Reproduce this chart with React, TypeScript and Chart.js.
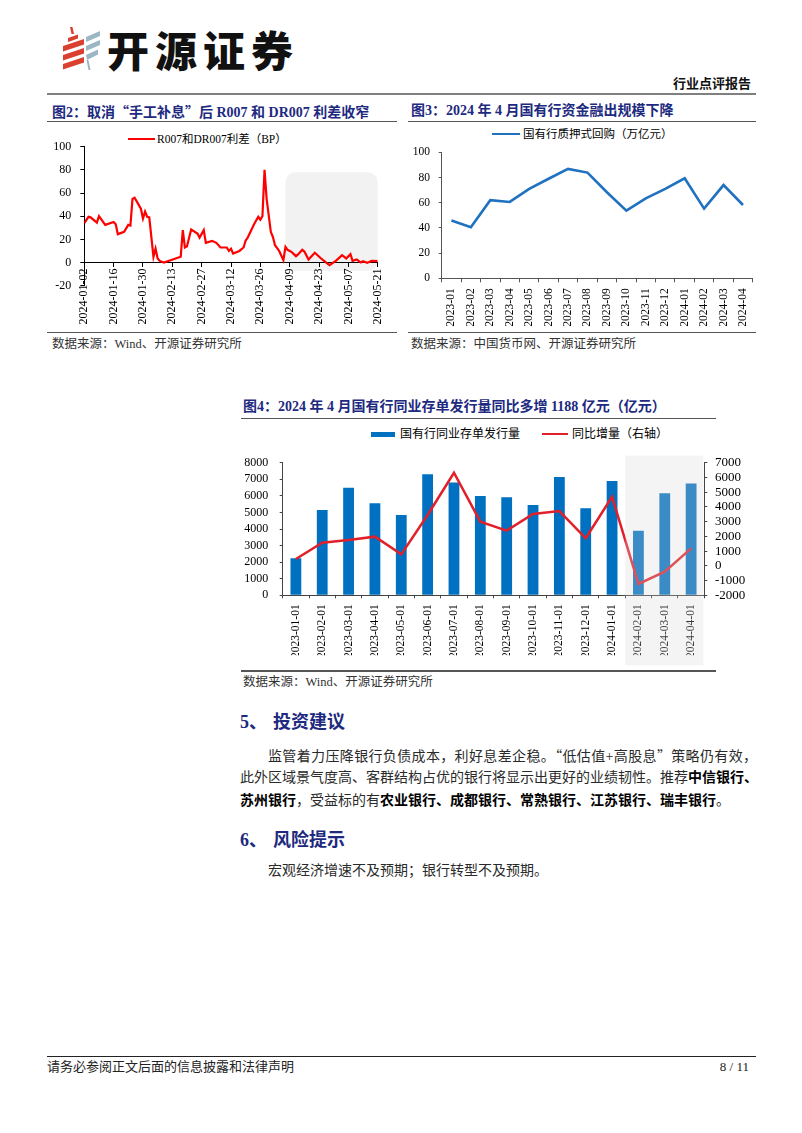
import React, { useEffect, useRef } from "react";
import { Chart, registerables } from "chart.js";
Chart.register(...registerables);

const SERIF = "'Liberation Serif', 'Times New Roman', 'Noto Sans CJK SC', serif";
const CJK = "'Noto Sans CJK SC', sans-serif";
const NAVY = "#1d2a80";

// ---------------- Figure 2: R007 - DR007 spread (BP) ----------------
const fig2Label = "R007和DR007利差（BP）";
const fig2Start = "2024-01-02";
const fig2End = "2024-05-21";
const fig2TickStepDays = 14;
const fig2YTicks = { min: -20, max: 100, step: 20 };
const fig2Dates = [
  "2024-01-02", "2024-01-04", "2024-01-05", "2024-01-08", "2024-01-09", "2024-01-12",
  "2024-01-16", "2024-01-17", "2024-01-18", "2024-01-21", "2024-01-23", "2024-01-24",
  "2024-01-25", "2024-01-26", "2024-01-29", "2024-01-30", "2024-01-31", "2024-02-01",
  "2024-02-02", "2024-02-04", "2024-02-05", "2024-02-06", "2024-02-07", "2024-02-09",
  "2024-02-17", "2024-02-18", "2024-02-19", "2024-02-20", "2024-02-22", "2024-02-25",
  "2024-02-26", "2024-02-28", "2024-02-29", "2024-03-03", "2024-03-05", "2024-03-07",
  "2024-03-10", "2024-03-11", "2024-03-12", "2024-03-13", "2024-03-16", "2024-03-18",
  "2024-03-19", "2024-03-20", "2024-03-23", "2024-03-25", "2024-03-26", "2024-03-27",
  "2024-03-28", "2024-03-29", "2024-03-31", "2024-04-01", "2024-04-02", "2024-04-04",
  "2024-04-06", "2024-04-07", "2024-04-08", "2024-04-10", "2024-04-12", "2024-04-13",
  "2024-04-15", "2024-04-16", "2024-04-18", "2024-04-19", "2024-04-21", "2024-04-24",
  "2024-04-26", "2024-04-28", "2024-05-01", "2024-05-04", "2024-05-06", "2024-05-08",
  "2024-05-09", "2024-05-11", "2024-05-13", "2024-05-14", "2024-05-16", "2024-05-18",
  "2024-05-21",
];
const fig2Spread = [
  34, 39.5, 39, 34.5, 40, 32.5,
  35, 33, 24.5, 26.5, 32.5, 32,
  55, 56, 46.5, 38, 44, 39.5,
  39, 5, 12, 3.5, 1.4, 0,
  5, 28, 13, 14, 28.5, 25,
  21.5, 28, 17, 18.7, 17, 13,
  13, 10, 12, 7.8, 10, 13,
  19, 21.6, 33, 39.5, 37, 40,
  80, 55, 26.5, 22, 15, 10,
  2, 13.5, 11, 9, 5.5, 7,
  11, 9.5, 2.6, 4.6, 8.4, 3.5,
  0.5, -2.3, 1.5, 6.3, 3.5, 7.2,
  1.4, 2.6, 0, 1.2, -0.3, 1.4,
  1.2,
];
const fig2Shade = { from: "2024-04-07", to: "2024-05-21", low: -7, high: 78 };

// ---------------- Figure 3: state banks' pledged repo lending ----------------
const fig3Label = "国有行质押式回购（万亿元）";
const fig3Months = [
  "2023-01", "2023-02", "2023-03", "2023-04", "2023-05", "2023-06", "2023-07", "2023-08",
  "2023-09", "2023-10", "2023-11", "2023-12", "2024-01", "2024-02", "2024-03", "2024-04",
];
const fig3Repo = [45.8, 40.5, 62, 60.6, 71, 79, 86.8, 83.9, 68.3, 53.7, 63.5, 71, 79.4, 55.3, 74, 58.2];
const fig3YTicks = { min: 0, max: 100, step: 20 };

// ---------------- Figure 4: NCD issuance ----------------
const fig4BarLabel = "国有行同业存单发行量";
const fig4LineLabel = "同比增量（右轴）";
const fig4Months = [
  "2023-01-01", "2023-02-01", "2023-03-01", "2023-04-01", "2023-05-01", "2023-06-01",
  "2023-07-01", "2023-08-01", "2023-09-01", "2023-10-01", "2023-11-01", "2023-12-01",
  "2024-01-01", "2024-02-01", "2024-03-01", "2024-04-01",
];
const fig4Issuance = [2230, 5150, 6490, 5550, 4840, 7300, 6810, 5990, 5910, 5450, 7140, 5250, 6890, 3900, 6150, 6750];
const fig4YoY = [465, 1570, 1750, 1980, 780, 3450, 6320, 3000, 2390, 3520, 3720, 1870, 4690, -1230, -390, 1188];
const fig4LeftTicks = { min: 0, max: 8000, step: 1000 };
const fig4RightTicks = { min: -2000, max: 7000, step: 1000 };
const fig4ShadeFrom = "2024-02-01";

// ---------------- helpers ----------------
const DAY = 86400000;
const t0 = Date.parse(fig2Start + "T00:00:00Z");
const dayIndex = (s: string) => Math.round((Date.parse(s + "T00:00:00Z") - t0) / DAY);
const dayLabel = (d: number) => new Date(t0 + d * DAY).toISOString().slice(0, 10);
const plain = (v: number) => String(v);

const tickFont = (size: number) => ({ family: SERIF, size });

const fig2ShadePlugin = {
  id: "fig2Shade",
  beforeDraw(chart: any) {
    const { x, y } = chart.scales;
    const ctx = chart.ctx;
    const x0 = x.getPixelForValue(dayIndex(fig2Shade.from));
    const x1 = x.getPixelForValue(dayIndex(fig2Shade.to));
    const y0 = y.getPixelForValue(fig2Shade.high);
    const y1 = y.getPixelForValue(fig2Shade.low);
    ctx.save();
    ctx.fillStyle = "#f2f2f2";
    ctx.beginPath();
    ctx.roundRect(x0, y0, x1 - x0, y1 - y0, 10);
    ctx.fill();
    ctx.restore();
  },
};

const fig4ShadePlugin = {
  id: "fig4Shade",
  afterDraw(chart: any) {
    const xs = chart.scales.x;
    const idx = fig4Months.indexOf(fig4ShadeFrom);
    const left = (xs.getPixelForValue(idx - 1) + xs.getPixelForValue(idx)) / 2;
    const right = chart.chartArea.right - 1;
    const top = chart.chartArea.top - 7;
    const bottom = chart.chartArea.bottom + 70;
    const ctx = chart.ctx;
    ctx.save();
    ctx.fillStyle = "rgba(214,214,214,0.27)";
    ctx.fillRect(left, top, right - left, bottom - top);
    ctx.restore();
  },
};

const fig2Config = (): any => ({
  type: "line",
  data: {
    datasets: [
      {
        label: fig2Label,
        data: fig2Dates.map((d, i) => ({ x: dayIndex(d), y: fig2Spread[i] })),
        borderColor: "#ff0000",
        borderWidth: 2.2,
        pointRadius: 0,
        tension: 0,
        fill: false,
      },
    ],
  },
  options: {
    animation: false,
    responsive: false,
    events: [],
    layout: { padding: { left: 0, right: 18.3, top: 22.7, bottom: 44.3 } },
    plugins: { legend: { display: false }, tooltip: { enabled: false } },
    scales: {
      x: {
        type: "linear",
        position: { y: 0 },
        min: 0,
        max: dayIndex(fig2End),
        ticks: {
          stepSize: fig2TickStepDays,
          autoSkip: false,
          minRotation: 90,
          maxRotation: 90,
          padding: 2,
          color: "#000",
          font: tickFont(12),
          callback: (v: number) => dayLabel(v),
        },
        grid: { drawOnChartArea: false, drawTicks: true, tickLength: 4, color: "#000" },
        border: { display: true, color: "#000", width: 1 },
        afterFit: (s: any) => {
          s.paddingLeft = 0;
          s.paddingRight = 0;
        },
      },
      y: {
        min: fig2YTicks.min,
        max: fig2YTicks.max,
        ticks: { stepSize: fig2YTicks.step, autoSkip: false, padding: 9, color: "#000", font: tickFont(12), callback: plain },
        grid: { drawOnChartArea: false, drawTicks: true, tickLength: 4, color: "#000" },
        border: { display: true, color: "#000", width: 1 },
        afterFit: (s: any) => {
          s.width = 37.3;
          s.paddingTop = 0;
          s.paddingBottom = 0;
        },
      },
    },
  },
  plugins: [fig2ShadePlugin],
});

const fig3Config = (): any => ({
  type: "line",
  data: {
    labels: fig3Months,
    datasets: [
      {
        label: fig3Label,
        data: fig3Repo,
        borderColor: "#2071c0",
        borderWidth: 2.6,
        pointRadius: 0,
        tension: 0,
        fill: false,
      },
    ],
  },
  options: {
    animation: false,
    responsive: false,
    events: [],
    layout: { padding: { left: 0, right: 3.3, top: 26.3, bottom: 3.7 } },
    plugins: { legend: { display: false }, tooltip: { enabled: false } },
    scales: {
      x: {
        type: "category",
        offset: true,
        ticks: {
          autoSkip: false,
          minRotation: 90,
          maxRotation: 90,
          padding: 6,
          color: "#000",
          font: tickFont(11.5),
        },
        grid: { offset: true, drawOnChartArea: false, drawTicks: true, tickLength: 4, color: "#555" },
        border: { display: true, color: "#555", width: 1 },
        afterFit: (s: any) => {
          s.height = 48;
          s.paddingLeft = 0;
          s.paddingRight = 0;
        },
      },
      y: {
        min: fig3YTicks.min,
        max: fig3YTicks.max,
        ticks: { stepSize: fig3YTicks.step, autoSkip: false, padding: 8.7, color: "#000", font: tickFont(11.5), callback: plain },
        grid: { drawOnChartArea: false, drawTicks: true, tickLength: 3, color: "#555" },
        border: { display: true, color: "#555", width: 1 },
        afterFit: (s: any) => {
          s.width = 33.7;
          s.paddingTop = 0;
          s.paddingBottom = 0;
        },
      },
    },
  },
});

const fig4Config = (): any => ({
  type: "bar",
  data: {
    labels: fig4Months,
    datasets: [
      {
        type: "line",
        label: fig4LineLabel,
        data: fig4YoY,
        yAxisID: "y1",
        borderColor: "#e2202a",
        borderWidth: 2.5,
        pointRadius: 0,
        tension: 0,
        order: 0,
      },
      {
        type: "bar",
        label: fig4BarLabel,
        data: fig4Issuance,
        yAxisID: "y",
        backgroundColor: "#0070c0",
        barPercentage: 0.41,
        categoryPercentage: 1,
        order: 1,
      },
    ],
  },
  options: {
    animation: false,
    responsive: false,
    events: [],
    layout: { padding: { left: 0, right: 0, top: 17.7, bottom: 12.7 } },
    plugins: { legend: { display: false }, tooltip: { enabled: false } },
    scales: {
      x: {
        type: "category",
        offset: true,
        ticks: {
          autoSkip: false,
          minRotation: 90,
          maxRotation: 90,
          padding: 6,
          color: "#000",
          font: tickFont(11.5),
        },
        grid: { offset: true, drawOnChartArea: false, drawTicks: true, tickLength: 3, color: "#444" },
        border: { display: true, color: "#444", width: 1 },
        afterFit: (s: any) => {
          s.height = 60;
          s.paddingLeft = 0;
          s.paddingRight = 0;
        },
      },
      y: {
        position: "left",
        min: fig4LeftTicks.min,
        max: fig4LeftTicks.max,
        ticks: { stepSize: fig4LeftTicks.step, autoSkip: false, padding: 11.4, color: "#000", font: tickFont(12), callback: plain },
        grid: { drawOnChartArea: false, drawTicks: true, tickLength: 3, color: "#444" },
        border: { display: true, color: "#444", width: 1 },
        afterFit: (s: any) => {
          s.width = 42.7;
          s.paddingTop = 0;
          s.paddingBottom = 0;
        },
      },
      y1: {
        position: "right",
        min: fig4RightTicks.min,
        max: fig4RightTicks.max,
        ticks: { stepSize: fig4RightTicks.step, autoSkip: false, padding: 7.7, color: "#000", font: tickFont(13), callback: plain },
        grid: { drawOnChartArea: false, drawTicks: true, tickLength: 3, color: "#444" },
        border: { display: true, color: "#444", width: 1 },
        afterFit: (s: any) => {
          s.width = 55.7;
          s.paddingTop = 0;
          s.paddingBottom = 0;
        },
      },
    },
  },
  plugins: [fig4ShadePlugin],
});

// ---------------- layout helpers ----------------
function ChartBox({ left, top, width, height, build }: any) {
  const ref = useRef<HTMLCanvasElement>(null);
  useEffect(() => {
    const chart = new Chart(ref.current as HTMLCanvasElement, build());
    return () => chart.destroy();
  }, []);
  return (
    <canvas
      ref={ref}
      width={width}
      height={height}
      style={{ position: "absolute", left, top, width, height }}
    />
  );
}

function T({ x, cy, size, children, weight = 400, color = "#000", family = SERIF, w, align, ls }: any) {
  const lh = Math.round(size * 1.4);
  const style: any = {
    position: "absolute",
    left: x,
    top: cy - lh / 2,
    fontSize: size,
    lineHeight: lh + "px",
    fontWeight: weight,
    color,
    fontFamily: family,
    whiteSpace: "nowrap",
  };
  if (ls !== undefined) style.letterSpacing = ls;
  if (w !== undefined) {
    style.width = w;
    style.textAlign = align || "left";
    if (align === "justify") style.textAlignLast = "justify";
  }
  return <div style={style}>{children}</div>;
}

function HL({ x1, x2, y, t = 1, color = "#555" }: any) {
  return (
    <div style={{ position: "absolute", left: x1, top: y - t / 2, width: x2 - x1, height: t, background: color }} />
  );
}

function LegendLine({ x1, x2, y, color, t = 2.5 }: any) {
  return <div style={{ position: "absolute", left: x1, top: y - t / 2, width: x2 - x1, height: t, background: color }} />;
}

const Q = ({ children }: any) => <span style={{ fontFamily: CJK }}>{children}</span>;
const B = ({ children }: any) => <b style={{ fontWeight: 700, color: "#000" }}>{children}</b>;

function Logo() {
  const red = "#d9402f";
  const blue = "#9bb7c4";
  return (
    <svg width={120} height={80} style={{ position: "absolute", left: 0, top: 0 }}>
      <polygon points="70,27 72.5,27 74,34 71.5,34" fill={red} />
      <polygon points="68,38 78,34.5 78,38.5 68,42" fill={red} />
      <polygon points="63,46 84,39 84,44.5 63,51.5" fill={red} />
      <polygon points="63,55 84,48 84,53.5 63,60.5" fill={red} />
      <polygon points="63,64 84,57 84,62.5 63,69.5" fill={red} />
      <polygon points="86,37 100,31 100,36 86,42" fill={blue} />
      <polygon points="86,46 100,40 100,45 86,51" fill={blue} />
      <polygon points="86,55 98,49.5 98,54.5 87,60" fill={blue} />
      <polygon points="86.5,60 88.5,60 90.5,70 88.5,70" fill={blue} />
    </svg>
  );
}

export default function App() {
  const body = "#2a2a2a";
  return (
    <div
      lang="zh-CN"
      style={{ position: "absolute", left: 0, top: 0, width: 802, height: 1133, background: "#fff", overflow: "hidden" }}
    >
      {/* header */}
      <Logo />
      <T x={107} cy={48} size={42} weight={900} family={CJK} color="#111" ls={6}>
        开源证券
      </T>
      <T x={600} cy={83} size={13} weight={700} family={CJK} w={151} align="right" color="#111">
        行业点评报告
      </T>
      <HL x1={47} x2={756} y={94} t={2} color="#808080" />

      {/* figure 2 */}
      <T x={52} cy={110.5} size={14} weight={700} color={NAVY}>
        图2：取消<Q>“</Q>手工补息<Q>”</Q>后 R007 和 DR007 利差收窄
      </T>
      <HL x1={47} x2={397} y={121.5} t={1.2} />
      <LegendLine x1={128} x2={155} y={139} color="#ff0000" />
      <T x={157} cy={139} size={11.5}>
        {fig2Label}
      </T>
      <ChartBox left={47} top={124} width={349} height={206} build={fig2Config} />
      <HL x1={47} x2={397} y={332.3} t={1.2} />
      <T x={52} cy={343.5} size={12.5} color="#333">
        数据来源：Wind、开源证券研究所
      </T>

      {/* figure 3 */}
      <T x={411} cy={110.5} size={14} weight={700} color={NAVY}>
        图3：2024 年 4 月国有行资金融出规模下降
      </T>
      <HL x1={408} x2={756} y={121.5} t={1.2} />
      <LegendLine x1={492} x2={520} y={134} color="#2071c0" />
      <T x={523} cy={134} size={11.5}>
        {fig3Label}
      </T>
      <ChartBox left={408} top={126} width={348} height={204} build={fig3Config} />
      <HL x1={408} x2={756} y={332.3} t={1.2} />
      <T x={411} cy={343.5} size={12.5} color="#333">
        数据来源：中国货币网、开源证券研究所
      </T>

      {/* figure 4 */}
      <T x={243} cy={407} size={14} weight={700} color={NAVY}>
        图4：2024 年 4 月国有行同业存单发行量同比多增 1188 亿元（亿元）
      </T>
      <HL x1={241} x2={716} y={418.5} t={1.2} />
      <div style={{ position: "absolute", left: 371, top: 431.5, width: 24, height: 5.5, background: "#0070c0" }} />
      <T x={400} cy={434} size={12}>
        {fig4BarLabel}
      </T>
      <LegendLine x1={542} x2={568} y={434} color="#e2202a" />
      <T x={572} cy={434} size={12}>
        {fig4LineLabel}
      </T>
      <ChartBox left={240} top={445} width={520} height={223} build={fig4Config} />
      <HL x1={241} x2={716} y={671} t={1.2} />
      <T x={243} cy={682} size={12.5} color="#333">
        数据来源：Wind、开源证券研究所
      </T>

      {/* section 5 */}
      <T x={240} cy={722} size={18} weight={700} color={NAVY}>
        5、
      </T>
      <T x={273} cy={722} size={18} weight={700} color={NAVY}>
        投资建议
      </T>
      <T x={268} cy={755} size={14} color={body} w={489} align="justify">
        监管着力压降银行负债成本，利好息差企稳。<Q>“</Q>低估值+高股息<Q>”</Q>策略仍有效，
      </T>
      <T x={240} cy={778} size={14} color={body} w={517} align="justify">
        此外区域景气度高、客群结构占优的银行将显示出更好的业绩韧性。推荐<B>中信银行、</B>
      </T>
      <T x={240} cy={800.5} size={14} color={body}>
        <B>苏州银行</B>，受益标的有<B>农业银行、成都银行、常熟银行、江苏银行、瑞丰银行</B>。
      </T>

      {/* section 6 */}
      <T x={240} cy={840} size={18} weight={700} color={NAVY}>
        6、
      </T>
      <T x={273} cy={840} size={18} weight={700} color={NAVY}>
        风险提示
      </T>
      <T x={268} cy={870.5} size={14} color={body}>
        宏观经济增速不及预期；银行转型不及预期。
      </T>

      {/* footer */}
      <HL x1={47} x2={756} y={1056.5} t={1} color="#222" />
      <T x={47} cy={1067} size={13} color="#222">
        请务必参阅正文后面的信息披露和法律声明
      </T>
      <T x={600} cy={1067} size={13} color="#222" w={149} align="right">
        8 / 11
      </T>
    </div>
  );
}
